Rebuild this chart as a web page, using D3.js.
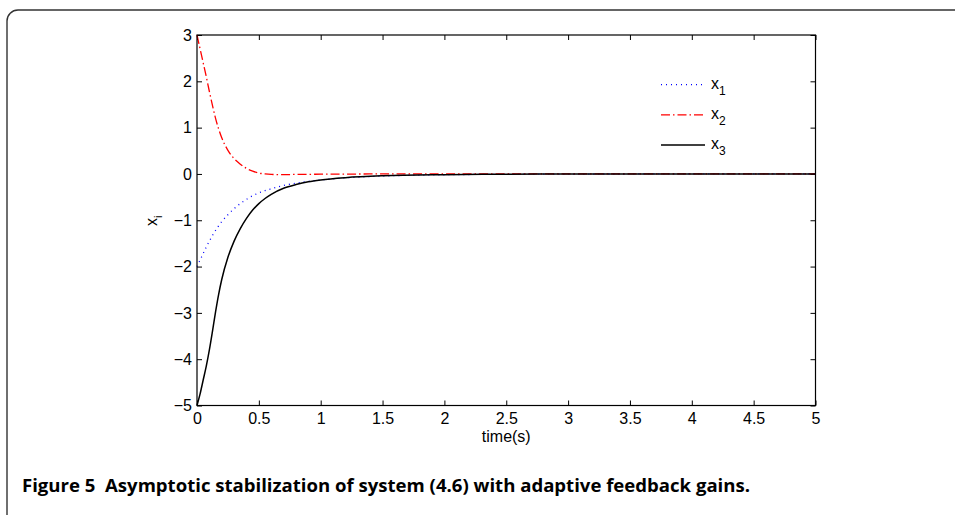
<!DOCTYPE html>
<html>
<head>
<meta charset="utf-8">
<script src="https://cdn.jsdelivr.net/npm/d3@7"></script>
<style>
  body { margin: 0; background: #fff; }
  svg { display: block; }
</style>
</head>
<body>
<svg width="955" height="515"></svg>
<script>
const [WIDTH, HEIGHT] = [955, 515]
const [LEFT, RIGHT, TOP, BOTTOM] = [197, 815.5, 35, 405.5]
const FONT = "Liberation Sans, Arial, sans-serif"

// simulated trajectories
const times = [0, 0.025, 0.05, 0.075, 0.1, 0.125, 0.15, 0.175, 0.2, 0.25, 0.3, 0.35, 0.4, 0.45,
  0.5, 0.55, 0.6, 0.7, 0.8, 0.9, 1.0, 1.2, 1.5, 2, 2.5, 3, 4, 5]
const x1Values = [-2, -1.86, -1.72, -1.58, -1.45, -1.33, -1.22, -1.12, -1.03, -0.88, -0.75, -0.64, -0.55, -0.47,
  -0.41, -0.36, -0.32, -0.25, -0.2, -0.16, -0.13, -0.085, -0.045, -0.018, -0.007, -0.003, 0, 0]
const x2Values = [3, 2.7, 2.4, 2.1, 1.78, 1.48, 1.2, 0.97, 0.78, 0.51, 0.33, 0.21, 0.12, 0.06,
  0.02, 0.0, -0.01, -0.015, -0.01, -0.008, -0.005, -0.003, 0, 0, 0, 0, 0, 0]
const x3Values = [-5, -4.75, -4.45, -4.15, -3.8, -3.4, -2.98, -2.6, -2.28, -1.8, -1.45, -1.18, -0.96, -0.78,
  -0.64, -0.53, -0.44, -0.31, -0.23, -0.17, -0.13, -0.08, -0.04, -0.015, -0.006, -0.002, 0, 0]

const xTicks = [0, 0.5, 1, 1.5, 2, 2.5, 3, 3.5, 4, 4.5, 5]
const yTicks = [-5, -4, -3, -2, -1, 0, 1, 2, 3]

const series = [
  { name: "1", values: x1Values, color: "#0000ff", dash: "1,4", width: 1.3 },
  { name: "2", values: x2Values, color: "#ff0000", dash: "9,3,1.5,3", width: 1.3 },
  { name: "3", values: x3Values, color: "#000000", dash: null, width: 1.5 },
]

const svg = d3.select("svg")

// outer rounded frame
svg.append("rect")
  .attr("x", 7).attr("y", 10)
  .attr("width", 980).attr("height", 520)
  .attr("rx", 11)
  .attr("fill", "none")
  .attr("stroke", "#333")
  .attr("stroke-width", 1.4)

const x = d3.scaleLinear().domain([0, 5]).range([LEFT, RIGHT])
const y = d3.scaleLinear().domain([-5, 3]).range([BOTTOM, TOP])

const fmt = d3.format("")

const styleAxis = (g) => {
  g.attr("font-family", FONT).attr("font-size", 16)
  g.select(".domain").remove()
  g.selectAll(".tick line").attr("stroke", "#000")
  g.selectAll(".tick text").attr("fill", "#000")
}

svg.append("g")
  .attr("transform", `translate(0,${BOTTOM})`)
  .call(d3.axisBottom(x).tickValues(xTicks).tickFormat(fmt).tickSizeInner(-5).tickSizeOuter(0).tickPadding(7))
  .call(styleAxis)
svg.append("g")
  .attr("transform", `translate(0,${TOP})`)
  .call(d3.axisTop(x).tickValues(xTicks).tickFormat("").tickSizeInner(-5).tickSizeOuter(0))
  .call(styleAxis)
svg.append("g")
  .attr("transform", `translate(${LEFT},0)`)
  .call(d3.axisLeft(y).tickValues(yTicks).tickFormat(fmt).tickSizeInner(-5).tickSizeOuter(0).tickPadding(5))
  .call(styleAxis)
svg.append("g")
  .attr("transform", `translate(${RIGHT},0)`)
  .call(d3.axisRight(y).tickValues(yTicks).tickFormat("").tickSizeInner(-5).tickSizeOuter(0))
  .call(styleAxis)

// curves
const line = d3.line()
  .x((d) => x(d[0]))
  .y((d) => y(d[1]))
  .curve(d3.curveMonotoneX)

const plot = svg.append("g")
series.forEach((s) => {
  plot.append("path")
    .datum(times.map((t, i) => [t, s.values[i]]))
    .attr("d", line)
    .attr("fill", "none")
    .attr("stroke", s.color)
    .attr("stroke-width", s.width)
    .attr("stroke-dasharray", s.dash)
})

// axes box
svg.append("rect")
  .attr("x", LEFT).attr("y", TOP)
  .attr("width", RIGHT - LEFT).attr("height", BOTTOM - TOP)
  .attr("fill", "none")
  .attr("stroke", "#000")
  .attr("stroke-width", 1.2)

// legend
const legend = svg.append("g")
series.forEach((s, i) => {
  const ly = 84.7 + i * 30.2
  legend.append("line")
    .attr("x1", 661).attr("x2", 705)
    .attr("y1", ly).attr("y2", ly)
    .attr("stroke", s.color)
    .attr("stroke-width", s.width)
    .attr("stroke-dasharray", s.dash)
  const t = legend.append("text")
    .attr("x", 711).attr("y", ly + 4)
    .attr("font-family", FONT)
    .attr("font-size", 16)
    .text("x")
  t.append("tspan").attr("dy", 6).attr("font-size", 12).text(s.name)
})

// axis labels
svg.append("text")
  .attr("x", (LEFT + RIGHT) / 2).attr("y", 442)
  .attr("text-anchor", "middle")
  .attr("font-family", FONT)
  .attr("font-size", 16)
  .text("time(s)")

const yl = svg.append("text")
  .attr("transform", "translate(157,226) rotate(-90)")
  .attr("font-family", FONT)
  .attr("font-size", 16)
  .text("x")
yl.append("tspan").attr("dy", 5).attr("font-size", 11).text("i")

// caption
svg.append("text")
  .attr("x", 22).attr("y", 492)
  .attr("font-family", "Open Sans, sans-serif")
  .attr("font-weight", "bold")
  .attr("font-size", 18)
  .attr("textLength", 728)
  .attr("lengthAdjust", "spacingAndGlyphs")
  .attr("xml:space", "preserve")
  .text("Figure 5  Asymptotic stabilization of system (4.6) with adaptive feedback gains.")
</script>
</body>
</html>
